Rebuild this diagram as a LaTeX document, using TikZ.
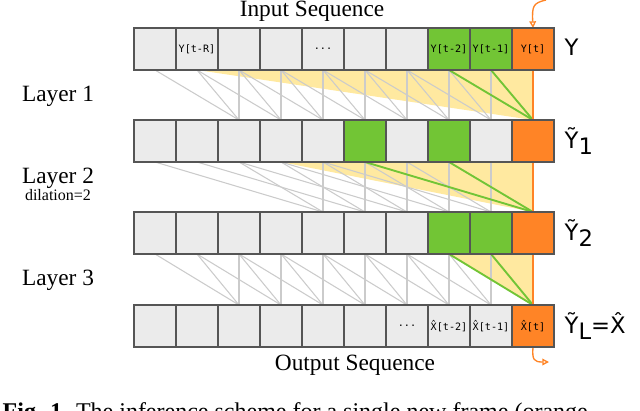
\documentclass[tikz,border=0pt]{standalone}
\usepackage{fontspec}
\setmainfont{Liberation Serif}
\newfontfamily\dvs{DejaVu Sans}
\newfontfamily\dvm{DejaVu Sans Mono}
\usetikzlibrary{arrows.meta}
\definecolor{cgray}{HTML}{EBEBEB}
\definecolor{cbord}{HTML}{555555}
\definecolor{cgreen}{HTML}{72C535}
\definecolor{corange}{HTML}{FF8426}
\definecolor{cyel}{HTML}{FFE9A0}
\definecolor{cline}{HTML}{CBCBCB}
\begin{document}
\begin{tikzpicture}[x=0.75pt,y=-0.75pt,
  cell/.style={draw=cbord,line width=0.9pt,fill=cgray,minimum width=31.5pt,minimum height=31.5pt,inner sep=0pt,font=\dvm\fontsize{7.6}{9}\selectfont},
  gl/.style={draw=cline,line width=0.8pt},
  grl/.style={draw=cgreen,line width=1.4pt},
  lab/.style={font=\fontsize{17.5}{20}\selectfont},
  rlab/.style={font=\dvs\fontsize{17}{19}\selectfont,anchor=west}]
\useasboundingbox (0,0) rectangle (640,411);
\clip (0,0) rectangle (640,411);
% yellow receptive field
\fill[cyel] (197,70) -- (533,70) -- (533,120) -- cycle;
\fill[cyel] (281,162) -- (533,162) -- (533,212) -- cycle;
\fill[cyel] (449,254) -- (533,254) -- (533,305) -- cycle;
% cell centres
\foreach \r/\yy in {1/49,2/141,3/233,4/326}{
  \foreach \i in {0,...,9}{
    \path (155+42*\i,\yy) coordinate (p\r-\i);
  }
}
% gray lines
\foreach \i in {2,...,9}{
  \pgfmathtruncatemacro{\a}{\i-2}\pgfmathtruncatemacro{\b}{\i-1}
  \draw[gl] ([yshift=-15.75pt]p1-\a) -- ([yshift=15.75pt]p2-\i);
  \draw[gl] ([yshift=-15.75pt]p1-\b) -- ([yshift=15.75pt]p2-\i);
  \draw[gl] ([yshift=-15.75pt]p1-\i) -- ([yshift=15.75pt]p2-\i);
  \draw[gl] ([yshift=-15.75pt]p3-\a) -- ([yshift=15.75pt]p4-\i);
  \draw[gl] ([yshift=-15.75pt]p3-\b) -- ([yshift=15.75pt]p4-\i);
  \draw[gl] ([yshift=-15.75pt]p3-\i) -- ([yshift=15.75pt]p4-\i);
}
\foreach \i in {4,...,9}{
  \pgfmathtruncatemacro{\a}{\i-4}\pgfmathtruncatemacro{\b}{\i-2}
  \draw[gl] ([yshift=-15.75pt]p2-\a) -- ([yshift=15.75pt]p3-\i);
  \draw[gl] ([yshift=-15.75pt]p2-\b) -- ([yshift=15.75pt]p3-\i);
  \draw[gl] ([yshift=-15.75pt]p2-\i) -- ([yshift=15.75pt]p3-\i);
}
% green lines
\draw[grl] ([yshift=-15.75pt]p1-7) -- ([yshift=15.75pt]p2-9);
\draw[grl] ([yshift=-15.75pt]p1-8) -- ([yshift=15.75pt]p2-9);
\draw[grl] ([yshift=-15.75pt]p2-5) -- ([yshift=15.75pt]p3-9);
\draw[grl] ([yshift=-15.75pt]p2-7) -- ([yshift=15.75pt]p3-9);
\draw[grl] ([yshift=-15.75pt]p3-7) -- ([yshift=15.75pt]p4-9);
\draw[grl] ([yshift=-15.75pt]p3-8) -- ([yshift=15.75pt]p4-9);
% orange path
\coordinate (tin) at (546,0);
\coordinate (tout) at (549,362);
\draw[corange,line width=1pt] (p1-9) -- (p4-9);
\draw[corange,line width=1pt,-{Triangle[open,length=5pt,width=5pt]}] (tin) .. controls (533,3) and (532,6) .. ([yshift=15.75pt]p1-9);
\draw[corange,line width=1pt,-{Triangle[open,length=5pt,width=5pt]}] ([yshift=-15.75pt]p4-9) .. controls (532,360) and (534,362) .. (tout);
% cells
\foreach \r in {1,...,4}{
  \foreach \i in {0,...,9}{
    \node[cell] (c\r-\i) at (p\r-\i) {};
  }
}
\node[cell,fill=cgreen] at (p1-7) {Y[t-2]};
\node[cell,fill=cgreen] at (p1-8) {Y[t-1]};
\node[cell,fill=corange] at (p1-9) {Y[t]};
\node[cell] at (p1-1) {Y[t-R]};
\node[cell] at (p1-4) {...};
\node[cell,fill=cgreen] at (p2-5) {};
\node[cell,fill=cgreen] at (p2-7) {};
\node[cell,fill=corange] at (p2-9) {};
\node[cell,fill=cgreen] at (p3-7) {};
\node[cell,fill=cgreen] at (p3-8) {};
\node[cell,fill=corange] at (p3-9) {};
\node[cell] at (p4-6) {...};
\node[cell] at (p4-7) {X̂[t-2]};
\node[cell] at (p4-8) {X̂[t-1]};
\node[cell,fill=corange] at (p4-9) {X̂[t]};
% labels
\node[lab] (ins) at (312,11) {Input Sequence};
\node[lab] (outs) at (355,365) {Output Sequence};
\node[lab] (l1) at (58,96) {Layer 1};
\node[lab] (l2) at (58,178) {Layer 2};
\node[font=\fontsize{12}{13}\selectfont] (dil) at (58,195) {dilation=2};
\node[lab] (l3) at (58,280) {Layer 3};
\node[rlab] (ry) at (560,47) {Y};
\node[rlab] (ry1) at (560,141) {Ỹ\raisebox{-5pt}{1}};
\node[rlab] (ry2) at (560,233) {Ỹ\raisebox{-5pt}{2}};
\node[rlab] (ryl) at (560,326) {Ỹ\raisebox{-5pt}{L}=X̂};
\node[anchor=base west,font=\fontsize{18}{20}\selectfont] (cap) at (-2,419) {\textbf{Fig. 1.} The inference scheme for a single new frame (orange};
\end{tikzpicture}
\end{document}
